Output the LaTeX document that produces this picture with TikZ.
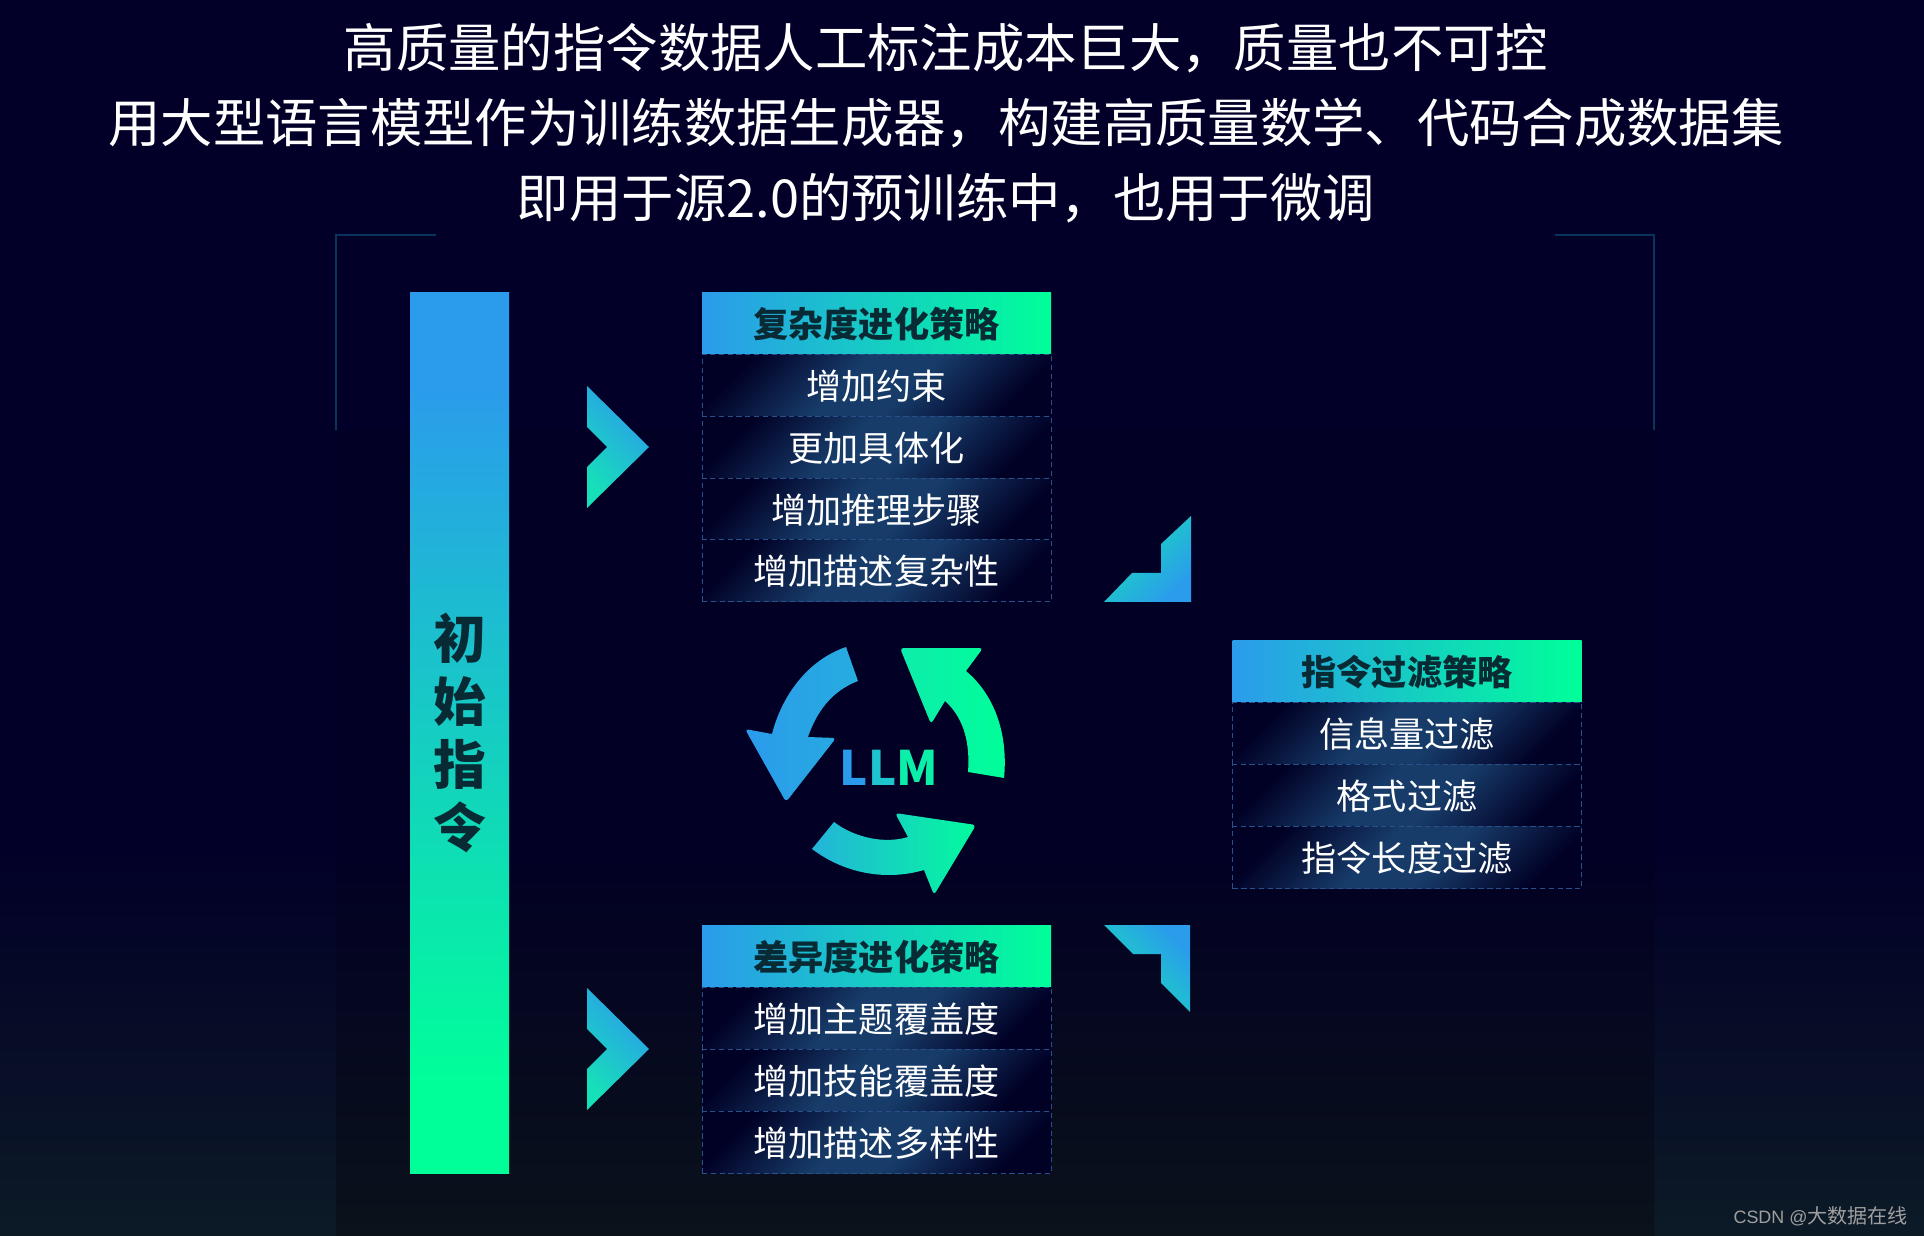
\documentclass[tikz,border=0pt]{standalone}
\usepackage{fontspec}
\setmainfont{Noto Sans CJK SC}
\newfontfamily\markfont{Liberation Sans}
\usepackage{xcolor}
\usepackage{tikz}
\usetikzlibrary{positioning,calc}
\definecolor{clrBl}{RGB}{43,155,236}
\definecolor{clrGr}{RGB}{0,255,153}
\definecolor{clrTe}{RGB}{22,224,184}
\definecolor{clrInk}{RGB}{8,42,52}
\definecolor{clrDash}{RGB}{42,80,140}
\definecolor{clrCorner}{RGB}{10,52,92}
\definecolor{bgTop}{RGB}{2,0,40}
\definecolor{bgBot}{RGB}{12,26,38}
\definecolor{panTop}{RGB}{2,0,36}
\definecolor{panBot}{RGB}{10,18,26}
\definecolor{rowDark}{RGB}{1,1,38}
\definecolor{rowGlow}{RGB}{23,60,106}
\pgfdeclareverticalshading{rowshade}{100bp}{color(0bp)=(rowDark); color(24bp)=(rowDark);
  color(44bp)=(rowGlow); color(56bp)=(rowGlow); color(76bp)=(rowDark); color(100bp)=(rowDark)}
\pgfdeclareverticalshading{barshade}{100bp}{color(0bp)=(clrGr); color(30bp)=(clrGr);
  color(70bp)=(clrBl); color(100bp)=(clrBl)}
\tikzset{
  titleline/.style={font=\fontsize{29.8pt}{34pt}\selectfont,text=white,inner sep=0pt},
  headbox/.style={rectangle,left color=clrBl,right color=clrGr,text=clrInk,
    minimum width=349*0.02cm,minimum height=62*0.02cm,inner sep=0pt,
    text height=18pt,text depth=2pt,
    font=\fontsize{20pt}{24pt}\selectfont\bfseries},
  rowbox/.style={rectangle,draw=clrDash,dash pattern=on 3pt off 2pt,line width=0.5pt,
    shading=rowshade,shading angle=45,text=white,
    minimum width=349*0.02cm,minimum height=62*0.02cm,inner sep=0pt,
    text height=18pt,text depth=2pt,
    font=\fontsize{20pt}{24pt}\selectfont},
  barbox/.style={rectangle,shading=barshade,text=clrInk,
    minimum width=99*0.02cm,minimum height=880*0.02cm,inner sep=0pt,align=center,
    font=\fontsize{30pt}{36pt}\selectfont\bfseries},
  pointer/.style={top color=clrBl,bottom color=clrTe,shading angle=#1},
  cornerline/.style={draw=clrCorner,line width=0.6pt},
  loopL/.style={left color=clrBl,right color=clrBl!75!clrTe},
  loopR/.style={left color=clrTe!60!clrGr,right color=clrGr},
  loopB/.style={left color=clrBl!65!clrTe,right color=clrGr!85!clrTe}
}
\begin{document}
\begin{tikzpicture}[x=0.02cm,y=-0.02cm]
  % backdrop
  \fill[bgTop] (0,0) rectangle (1924,850);
  \fill[top color=bgTop,bottom color=bgBot] (0,850) rectangle (1924,1236);
  \fill[panTop] (336,430) rectangle (1654,850);
  \fill[top color=panTop,bottom color=panBot] (336,850) rectangle (1654,1236);
  \draw[cornerline] (336,430) -- (336,235) -- (436,235);
  \draw[cornerline] (1555,235) -- (1654,235) -- (1654,430);

  \node[titleline] (title1) at (946,48.5) {高质量的指令数据人工标注成本巨大，质量也不可控};
  \node[titleline] (title2) at (946,123.5) {用大型语言模型作为训练数据生成器，构建高质量数学、代码合成数据集};
  \node[titleline] (title3) at (946,198.5) {即用于源2.0的预训练中，也用于微调};

  \node[barbox] (initial) at (459.5,733) {初\\始\\指\\令};

  % chevrons
  \shade[pointer=-45] (587,386) -- (649,447) -- (587,508) -- (587,467) -- (607,447) -- (587,427) -- cycle;
  \shade[pointer=-45] (587,988) -- (649,1049) -- (587,1110) -- (587,1069) -- (607,1049) -- (587,1029) -- cycle;

  % complexity box
  \node[headbox] (cplx) at (876.5,323.5) {复杂度进化策略};
  \node[rowbox] (cplx1) at (876.5,385.5) {增加约束};
  \node[rowbox] (cplx2) at (876.5,447.5) {更加具体化};
  \node[rowbox] (cplx3) at (876.5,509.5) {增加推理步骤};
  \node[rowbox] (cplx4) at (876.5,570.5) {增加描述复杂性};

  % diversity box
  \node[headbox] (divs) at (876.5,956.5) {差异度进化策略};
  \node[rowbox] (divs1) at (876.5,1018.5) {增加主题覆盖度};
  \node[rowbox] (divs2) at (876.5,1080.5) {增加技能覆盖度};
  \node[rowbox] (divs3) at (876.5,1142.5) {增加描述多样性};

  % filter box
  \node[headbox] (filt) at (1407,671.5) {指令过滤策略};
  \node[rowbox] (filt1) at (1407,733.5) {信息量过滤};
  \node[rowbox] (filt2) at (1407,795.5) {格式过滤};
  \node[rowbox] (filt3) at (1407,857.5) {指令长度过滤};

  % corner pointers
  \shade[pointer=-135] (1191,516) -- (1161,544) -- (1161,573) -- (1132,573) -- (1104,602) -- (1191,602) -- cycle;
  \shade[pointer=-45] (1104,925) -- (1190,925) -- (1190,1012) -- (1161,983) -- (1161,954) -- (1133,954) -- cycle;

  % LLM loop
  \shade[loopL] (846,647) .. controls (808,660) and (782,695) .. (772,734)
    [rounded corners=2pt] -- (745,729) -- (786,802) -- (836,738) [sharp corners] -- (808,737)
    .. controls (817,711) and (832,691) .. (858,681) -- cycle;
  \shade[loopR] (1004,778) .. controls (1008,738) and (997,697) .. (966,671)
    [rounded corners=2pt] -- (983,648) -- (900,648) -- (931,724) [sharp corners] -- (945,701)
    .. controls (965,719) and (970,745) .. (968,772) -- cycle;
  \shade[loopB] (812,849) .. controls (848,876) and (890,880) .. (924,870)
    [rounded corners=2pt] -- (934,895) -- (976,825) -- (895,813) [sharp corners] -- (908,837)
    .. controls (885,844) and (855,838) .. (834,822) -- cycle;
  \node[inner sep=0pt,font=\fontsize{27pt}{30pt}\selectfont\bfseries] (llm) at (889,768)
    {\textcolor{clrBl}{L}\textcolor{clrBl!40!clrTe}{L}\textcolor{clrTe!50!clrGr}{M}};

  \node[anchor=east,inner sep=0pt,text=gray!75,font=\fontsize{11.4pt}{14pt}\selectfont] (mark) at (1908,1216)
    {{\markfont\fontsize{10.2pt}{14pt}\selectfont CSDN @}大数据在线};
\end{tikzpicture}
\end{document}
